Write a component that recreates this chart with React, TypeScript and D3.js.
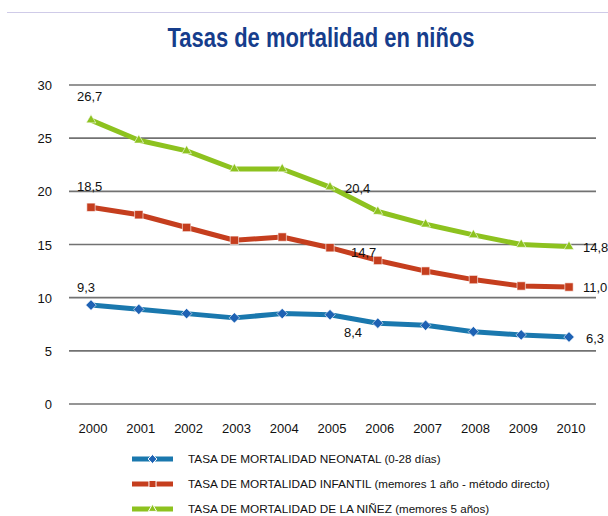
import React, { useEffect, useRef } from "react";
import * as d3 from "d3";

const years = [2000, 2001, 2002, 2003, 2004, 2005, 2006, 2007, 2008, 2009, 2010];
const neonatal = [9.3, 8.9, 8.5, 8.1, 8.5, 8.4, 7.6, 7.4, 6.8, 6.5, 6.3];
const infantil = [18.5, 17.8, 16.6, 15.4, 15.7, 14.7, 13.5, 12.5, 11.7, 11.1, 11.0];
const ninez = [26.7, 24.8, 23.8, 22.1, 22.1, 20.4, 18.1, 16.9, 15.9, 15.0, 14.8];
const yTicks = [0, 5, 10, 15, 20, 25, 30];

const legendLabels = [
  ["TASA DE MORTALIDAD NEONATAL ", "(0-28 días)"],
  ["TASA DE MORTALIDAD INFANTIL ", "(memores 1 año - método directo)"],
  ["TASA DE MORTALIDAD DE LA NIÑEZ ", "(memores 5 años)"],
];

// value labels: [series, year index, text, dx, dy]
const valueLabels: [number, number, string, number, number][] = [
  [2, 0, "26,7", -14, -19],
  [1, 0, "18,5", -14, -16],
  [0, 0, "9,3", -14, -13],
  [2, 5, "20,4", 15, 6],
  [1, 5, "14,7", 21, 9],
  [0, 5, "8,4", 14, 22],
  [2, 10, "14,8", 14, 5],
  [1, 10, "11,0", 14, 5],
  [0, 10, "6,3", 17, 6],
];

const series = [
  { values: neonatal, line: "#1a78ae", mark: "#1e62b4", symbol: d3.symbolDiamond2 },
  { values: infantil, line: "#c53e1e", mark: "#c53e1e", symbol: d3.symbolSquare },
  { values: ninez, line: "#8dc21f", mark: "#8dc21f", symbol: d3.symbolTriangle },
];

export default function App() {
  const svgRef = useRef<SVGSVGElement>(null);

  useEffect(() => {
    const svg = d3.select(svgRef.current);
    svg.selectAll("*").remove();
    const font = "'Liberation Sans', Arial, sans-serif";

    const x = d3.scaleLinear().domain([2000, 2010]).range([91, 569]);
    const y = d3.scaleLinear().domain([0, 30]).range([404, 85]);

    svg
      .append("line")
      .attr("x1", 7)
      .attr("x2", 608)
      .attr("y1", 12.5)
      .attr("y2", 12.5)
      .attr("stroke", "#cfcbe8")
      .attr("stroke-width", 1);

    svg
      .append("text")
      .text("Tasas de mortalidad en niños")
      .attr("x", 321)
      .attr("y", 47)
      .attr("text-anchor", "middle")
      .attr("fill", "#163d8c")
      .attr("font-family", "'Liberation Sans Narrow', 'Liberation Sans', Arial, sans-serif")
      .attr("font-weight", "bold")
      .attr("font-size", 27)
      .attr("textLength", 307)
      .attr("lengthAdjust", "spacingAndGlyphs");

    // grid
    svg
      .append("g")
      .selectAll("line")
      .data(yTicks)
      .join("line")
      .attr("x1", 69)
      .attr("x2", 596)
      .attr("y1", (d) => y(d))
      .attr("y2", (d) => y(d))
      .attr("stroke", "#727272")
      .attr("stroke-width", 1.6);

    svg
      .append("g")
      .selectAll("text")
      .data(yTicks)
      .join("text")
      .text((d) => d)
      .attr("x", 52)
      .attr("y", (d) => y(d) + 5)
      .attr("text-anchor", "end")
      .attr("font-family", font)
      .attr("font-size", 13)
      .attr("fill", "#111");

    svg
      .append("g")
      .selectAll("text")
      .data(years)
      .join("text")
      .text((d) => d)
      .attr("x", (d) => x(d) + 2)
      .attr("y", 433)
      .attr("text-anchor", "middle")
      .attr("font-family", font)
      .attr("font-size", 13)
      .attr("fill", "#111");

    const line = d3
      .line<number>()
      .x((d, i) => x(years[i]))
      .y((d) => y(d));

    series.forEach((s) => {
      const g = svg.append("g");
      g.append("path")
        .attr("d", line(s.values))
        .attr("fill", "none")
        .attr("stroke", s.line)
        .attr("stroke-width", 5)
        .attr("stroke-linejoin", "round");
      g.selectAll("path.m")
        .data(s.values)
        .join("path")
        .attr("class", "m")
        .attr("d", d3.symbol(s.symbol, s.symbol === d3.symbolTriangle ? 40 : 70)())
        .attr("transform", (d, i) => `translate(${x(years[i])},${y(d)})`)
        .attr("fill", s.mark)
        .attr("stroke", "#fff")
        .attr("stroke-opacity", 0.6)
        .attr("stroke-width", 1);
    });

    svg
      .append("g")
      .selectAll("text")
      .data(valueLabels)
      .join("text")
      .text((d) => d[2])
      .attr("x", (d) => x(years[d[1]]) + d[3])
      .attr("y", (d) => y(series[d[0]].values[d[1]]) + d[4])
      .attr("font-family", font)
      .attr("font-size", 13)
      .attr("fill", "#111");

    // legend
    const lg = svg.append("g");
    series.forEach((s, i) => {
      const cy = 459 + i * 25;
      lg.append("line")
        .attr("x1", 132)
        .attr("x2", 173)
        .attr("y1", cy)
        .attr("y2", cy)
        .attr("stroke", s.line)
        .attr("stroke-width", 5);
      lg.append("path")
        .attr("d", d3.symbol(s.symbol, s.symbol === d3.symbolTriangle ? 30 : 50)())
        .attr("transform", `translate(152.5,${cy})`)
        .attr("fill", s.mark)
        .attr("stroke", "#fff")
        .attr("stroke-width", 1);
      const t = lg
        .append("text")
        .attr("x", 188)
        .attr("y", cy + 4)
        .attr("font-family", font)
        .attr("font-size", 11.8)
        .attr("fill", "#111");
      t.append("tspan").text(legendLabels[i][0]);
      t.append("tspan").attr("font-size", 11.6).text(legendLabels[i][1]);
    });
  }, []);

  return (
    <svg
      ref={svgRef}
      width={608}
      height={516}
      style={{ position: "absolute", left: 0, top: 0, background: "#fff" }}
    />
  );
}
